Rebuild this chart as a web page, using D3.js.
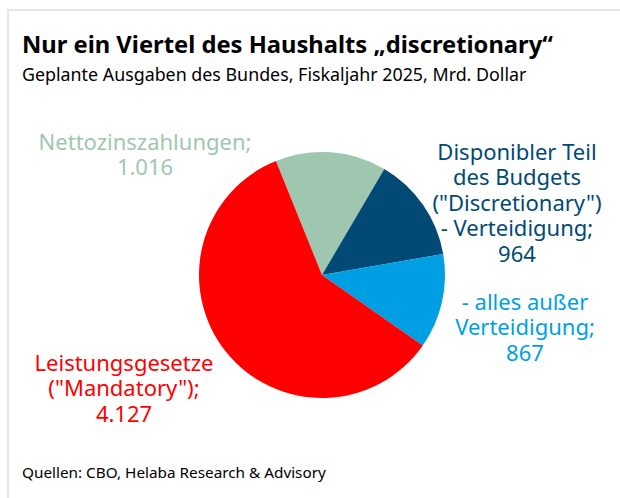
<!DOCTYPE html>
<html><head><meta charset="utf-8">
<script src="https://cdn.jsdelivr.net/npm/d3@7"></script>
<style>body{margin:0;background:#fff}svg{display:block}text{font-family:"Noto Sans",sans-serif}</style>
</head><body>
<svg id="c" width="620" height="498"></svg>
<script>
const categories = ["Nettozinszahlungen", "Verteidigung", "Nicht-Verteidigung", "Mandatory"];
const values = [1016, 964, 867, 4127];
const colors = ["#9fc7b0", "#004a75", "#009fe3", "#ff0000"];
const labelLines = [
  ["Nettozinszahlungen;", "1.016"],
  ["Disponibler Teil", "des Budgets", "(\"Discretionary\")", "- Verteidigung;", "964"],
  ["- alles außer", "Verteidigung;", "867"],
  ["Leistungsgesetze", "(\"Mandatory\");", "4.127"]
];
const labelPos = [[145, 142], [517, 152], [525, 302], [124, 363]];
const title = "Nur ein Viertel des Haushalts „discretionary“";
const subtitle = "Geplante Ausgaben des Bundes, Fiskaljahr 2025, Mrd. Dollar";
const source = "Quellen: CBO, Helaba Research & Advisory";

const svg = d3.select("#c");
svg.append("rect").attr("width",620).attr("height",498).attr("fill","#fff");
svg.append("path").attr("d","M8,498V10H620").attr("fill","none").attr("stroke","#e5e5e5").attr("stroke-width",2);

function fit(sel, w){ const l = sel.node().getComputedTextLength(); const fs = parseFloat(sel.attr("font-size")); sel.attr("font-size", fs*w/l); }

const t = svg.append("text").attr("x",22).attr("y",53).attr("font-size",21).attr("font-weight","bold").attr("fill","#000").text(title);
fit(t, 531);
const st = svg.append("text").attr("x",22).attr("y",81).attr("font-size",16).attr("fill","#000").text(subtitle);
fit(st, 505);
const so = svg.append("text").attr("x",22).attr("y",478).attr("font-size",14).attr("fill","#000").text(source);
fit(so, 304);

const cx = 322, cy = 275, r = 123;
const pie = d3.pie().sort(null).startAngle(-22*Math.PI/180).endAngle(338*Math.PI/180);
const arc = d3.arc().innerRadius(0).outerRadius(r);
const g = svg.append("g").attr("transform",`translate(${cx},${cy})`);
g.selectAll("path").data(pie(values)).join("path").attr("d",arc).attr("fill",(d,i)=>colors[i]);

const lh = 25.6;
labelLines.forEach((lines,i)=>{
  const tx = svg.append("text").attr("text-anchor","middle").attr("font-size",22).attr("fill",colors[i]);
  lines.forEach((s,j)=>{
    tx.append("tspan").attr("x",labelPos[i][0]).attr("y",labelPos[i][1]+7.5+j*lh).text(s);
  });
});
</script>
</body></html>
